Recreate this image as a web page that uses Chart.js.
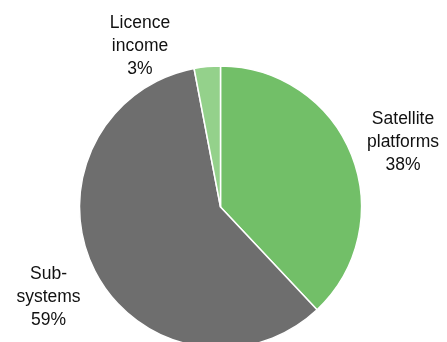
<!DOCTYPE html>
<html>
<head>
<meta charset="utf-8">
<script src="https://cdn.jsdelivr.net/npm/chart.js@4"></script>
<style>
  html, body { margin: 0; padding: 0; background: #fff; overflow: hidden; }
  #wrap { width: 447px; height: 342px; overflow: hidden; }
</style>
</head>
<body>
<div id="wrap"><canvas id="myChart" width="447" height="414"></canvas></div>
<script>
// Revenue split
const segments = ['Satellite platforms', 'Sub-systems', 'Licence income']
const shares = [38, 59, 3]
const labelLines = [['Satellite', 'platforms'], ['Sub-', 'systems'], ['Licence', 'income']]
const sliceColors = ['#72bf68', '#6e6e6e', '#94d18b']

// where each label block sits, as offsets from the pie centre (px)
const labelSpots = [[182.5, -60.5], [-172, 94.5], [-80.5, -156]]
const lineGap = 23

const sliceLabels = {
  id: 'sliceLabels',
  afterDatasetsDraw(chart) {
    const ctx = chart.ctx
    const arc = chart.getDatasetMeta(0).data[0]
    ctx.save()
    ctx.font = '17.5px "Liberation Sans", Arial, sans-serif'
    ctx.fillStyle = '#111'
    ctx.textAlign = 'center'
    ctx.textBaseline = 'alphabetic'
    shares.forEach((v, i) => {
      const lines = [...labelLines[i], v + '%']
      const x = arc.x + labelSpots[i][0]
      const y = arc.y + labelSpots[i][1]
      lines.forEach((t, j) => {
        ctx.fillText(t, x, y + (j - 1) * lineGap)
      })
    })
    ctx.restore()
  }
}

new Chart(document.querySelector('#myChart'), {
  type: 'pie',
  data: {
    labels: segments,
    datasets: [{
      data: shares,
      backgroundColor: sliceColors,
      borderColor: '#ffffff',
      borderWidth: 1.5,
      radius: 141
    }]
  },
  options: {
    responsive: false,
    animation: false,
    devicePixelRatio: 1,
    layout: { padding: { right: 6 } },
    plugins: {
      legend: { display: false },
      tooltip: { enabled: false }
    }
  },
  plugins: [sliceLabels]
})
</script>
</body>
</html>
